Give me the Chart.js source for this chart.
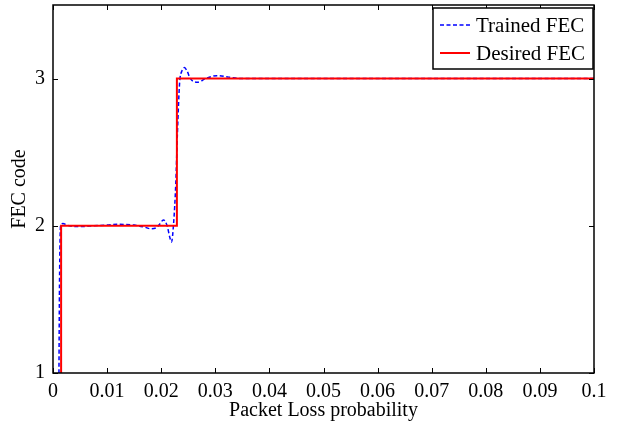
<!DOCTYPE html>
<html>
<head>
<meta charset="utf-8">
<script src="https://cdn.jsdelivr.net/npm/chart.js@4.4.0/dist/chart.umd.min.js"></script>
<style>
  html, body { margin: 0; padding: 0; background: #fff; }
  #wrap { width: 620px; height: 428px; }
</style>
</head>
<body>
<div id="wrap"><canvas id="fec-chart" width="620" height="428"></canvas></div>
<script>
// === Data ===
var xTicks = [0, 0.01, 0.02, 0.03, 0.04, 0.05, 0.06, 0.07, 0.08, 0.09, 0.1];
var xTickLabels = ['0', '0.01', '0.02', '0.03', '0.04', '0.05', '0.06', '0.07', '0.08', '0.09', '0.1'];
var yTicks = [1, 2, 3];

// Trained FEC (dashed blue)
var trainedX = [0.0011, 0.0012, 0.0014, 0.0018, 0.0030, 0.0050, 0.0075, 0.0100, 0.0120, 0.0150,
  0.0170, 0.0180, 0.0190, 0.0197, 0.0204, 0.0211, 0.0216, 0.0219, 0.0223, 0.0227,
  0.0230, 0.0234, 0.0238, 0.0243, 0.0248, 0.0254, 0.0267, 0.0282, 0.0303, 0.0325,
  0.0350, 0.0400, 0.0600, 0.0800, 0.1000];
var trainedY = [1.00, 1.60, 2.00, 2.015, 2.00, 1.995, 2.00, 2.005, 2.01, 2.005,
  1.99, 1.98, 1.985, 2.01, 2.04, 2.00, 1.92, 1.89, 2.02, 2.29,
  2.63, 2.97, 3.05, 3.075, 3.05, 3.00, 2.975, 3.00, 3.02, 3.01,
  3.00, 3.00, 3.00, 3.00, 3.00];

// Desired FEC (solid red)
var desiredX = [0.0015, 0.0015, 0.0229, 0.0229, 0.1];
var desiredY = [1, 2, 2, 3, 3];

var seriesLabels = ['Trained FEC', 'Desired FEC'];

function toPoints(xs, ys) {
  return xs.map(function(x, i) { return { x: x, y: ys[i] }; });
}

var serif = "'Liberation Serif', 'Times New Roman', serif";

// inward ticks on all four sides plus the box
var frameTicks = {
  id: 'frameTicks',
  afterDraw: function(chart) {
    var ctx = chart.ctx;
    var a = chart.chartArea;
    var xs = chart.scales.x;
    var ys = chart.scales.y;
    ctx.save();
    ctx.strokeStyle = '#000';
    ctx.lineWidth = 1.5;
    ctx.strokeRect(a.left, a.top, a.right - a.left, a.bottom - a.top);
    ctx.lineWidth = 1;
    ctx.beginPath();
    xTicks.forEach(function(v) {
      var px = Math.round(xs.getPixelForValue(v)) + 0.5;
      ctx.moveTo(px, a.bottom); ctx.lineTo(px, a.bottom - 5);
      ctx.moveTo(px, a.top); ctx.lineTo(px, a.top + 5);
    });
    yTicks.forEach(function(v) {
      var py = Math.round(ys.getPixelForValue(v)) + 0.5;
      ctx.moveTo(a.left, py); ctx.lineTo(a.left + 5, py);
      ctx.moveTo(a.right, py); ctx.lineTo(a.right - 5, py);
    });
    ctx.stroke();
    ctx.restore();
  }
};

// boxed legend in the top right corner of the plot
var boxLegend = {
  id: 'boxLegend',
  afterDraw: function(chart) {
    var ctx = chart.ctx;
    var a = chart.chartArea;
    var w = 160, h = 61;
    var x0 = a.right - w - 1, y0 = a.top + 3;
    ctx.save();
    ctx.fillStyle = '#fff';
    ctx.fillRect(x0, y0, w, h);
    ctx.strokeStyle = '#000';
    ctx.lineWidth = 1.5;
    ctx.strokeRect(x0, y0, w, h);
    ctx.font = '21px ' + serif;
    ctx.textBaseline = 'middle';
    ctx.fillStyle = '#000';
    var rows = [chart.data.datasets[0], chart.data.datasets[1]];
    rows.forEach(function(ds, i) {
      var cy = y0 + 17 + i * 28;
      ctx.beginPath();
      ctx.strokeStyle = ds.borderColor;
      ctx.lineWidth = ds.borderWidth;
      ctx.setLineDash(ds.borderDash || []);
      ctx.moveTo(x0 + 7, cy);
      ctx.lineTo(x0 + 37, cy);
      ctx.stroke();
      ctx.setLineDash([]);
      ctx.fillText(ds.label, x0 + 43, cy + 1);
    });
    ctx.restore();
  }
};

new Chart(document.getElementById('fec-chart').getContext('2d'), {
  type: 'line',
  data: {
    datasets: [{
      label: seriesLabels[0],
      data: toPoints(trainedX, trainedY),
      borderColor: '#0000ff',
      borderWidth: 1.5,
      borderDash: [4, 2.5],
      pointRadius: 0,
      cubicInterpolationMode: 'monotone',
      order: 1
    }, {
      label: seriesLabels[1],
      data: toPoints(desiredX, desiredY),
      borderColor: '#ff0000',
      borderWidth: 2,
      pointRadius: 0,
      tension: 0,
      order: 0
    }]
  },
  options: {
    responsive: false,
    animation: false,
    events: [],
    layout: { padding: { top: 5, right: 26, left: 0, bottom: 0 } },
    plugins: {
      legend: { display: false },
      tooltip: { enabled: false }
    },
    scales: {
      x: {
        type: 'linear',
        min: 0,
        max: 0.1,
        afterFit: function(s) {
          s.height = 55;
          s.paddingLeft = 0;
          s.paddingRight = 0;
        },
        afterBuildTicks: function(s) {
          s.ticks = xTicks.map(function(v) { return { value: v }; });
        },
        grid: { display: false, drawTicks: false },
        border: { display: false },
        ticks: {
          color: '#000',
          padding: 7,
          maxRotation: 0,
          font: { family: serif, size: 20 },
          callback: function(v) {
            var i = xTicks.indexOf(v);
            return i >= 0 ? xTickLabels[i] : '';
          }
        },
        title: {
          display: true,
          text: 'Packet Loss probability',
          color: '#000',
          font: { family: serif, size: 20 },
          padding: { top: 0, bottom: 5 }
        }
      },
      y: {
        type: 'linear',
        min: 1,
        max: 3.5,
        afterFit: function(s) {
          s.width = 53;
          s.paddingTop = 0;
          s.paddingBottom = 0;
        },
        afterBuildTicks: function(s) {
          s.ticks = yTicks.map(function(v) { return { value: v }; });
        },
        grid: { display: false, drawTicks: false },
        border: { display: false },
        ticks: {
          color: '#000',
          padding: 8,
          font: { family: serif, size: 20 }
        },
        title: {
          display: true,
          text: 'FEC code',
          color: '#000',
          font: { family: serif, size: 20 },
          padding: { top: 8, bottom: 0 }
        }
      }
    }
  },
  plugins: [frameTicks, boxLegend]
});
</script>
</body>
</html>
